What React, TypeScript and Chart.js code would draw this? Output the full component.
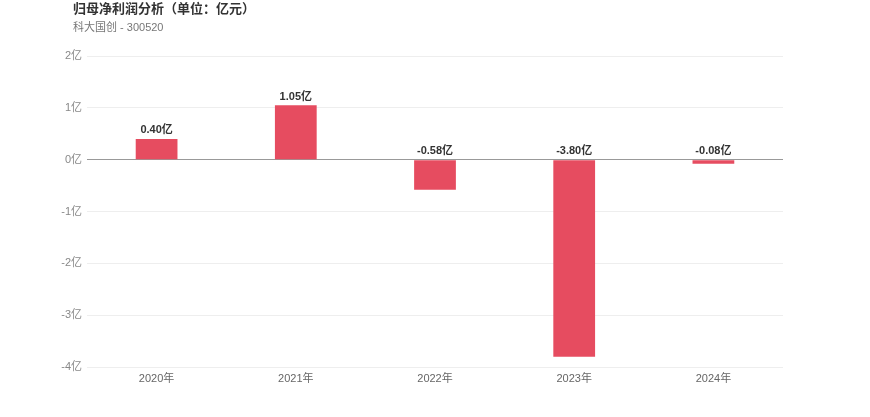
import React, { useEffect, useRef } from "react";
import { Chart, registerables } from "chart.js";

Chart.register(...registerables);

const categories = ["2020年", "2021年", "2022年", "2023年", "2024年"];
const profits = [0.4, 1.05, -0.58, -3.8, -0.08];
const yMin = -4;
const yMax = 2;
const titleText = "归母净利润分析（单位：亿元）";
const subtitleText = "科大国创 - 300520";

const FONT = '"Liberation Sans", "Noto Sans CJK SC", Arial, sans-serif';

const labelPlugin = {
  id: "barLabels",
  afterDatasetsDraw(chart: any) {
    const ctx = chart.ctx;
    const meta = chart.getDatasetMeta(0);
    const yScale = chart.scales.y;
    const zeroY = yScale.getPixelForValue(0);
    ctx.save();
    ctx.font = `bold 11px ${FONT}`;
    ctx.fillStyle = "#333";
    ctx.textAlign = "center";
    ctx.textBaseline = "bottom";
    meta.data.forEach((el: any, i: number) => {
      const v = profits[i];
      const y = v >= 0 ? el.y : zeroY;
      ctx.fillText(v.toFixed(2) + "亿", el.x, y - 3);
    });
    ctx.restore();
  },
};

export default function App() {
  const ref = useRef<HTMLCanvasElement>(null);
  useEffect(() => {
    if (!ref.current) return;
    const chart = new Chart(ref.current, {
      type: "bar",
      data: {
        labels: categories,
        datasets: [
          {
            data: profits,
            backgroundColor: "#e64c60",
            categoryPercentage: 1,
            barPercentage: 0.3,
          },
        ],
      },
      options: {
        animation: false,
        responsive: false,
        maintainAspectRatio: false,
        layout: { padding: { top: 56, right: 87, bottom: 0, left: 0 } },
        plugins: {
          legend: { display: false },
          tooltip: { enabled: false },
          title: { display: false },
        },
        scales: {
          x: {
            grid: { display: false, drawTicks: false },
            border: { display: false },
            ticks: { color: "#666", font: { size: 11, family: FONT }, padding: 5 },
            afterFit: (s: any) => {
              s.height = 50;
            },
          },
          y: {
            min: yMin,
            max: yMax,
            grid: {
              color: (c: any) => (c.tick && c.tick.value === 0 ? "#999" : "#eeeeee"),
              drawTicks: false,
            },
            border: { display: false },
            ticks: {
              stepSize: 1,
              color: "#888",
              font: { size: 11, family: FONT },
              padding: 5,
              callback: (v: any) => v + "亿",
            },
            afterFit: (s: any) => {
              s.width = 87;
            },
          },
        },
      },
      plugins: [labelPlugin],
    });
    return () => chart.destroy();
  }, []);
  return (
    <div style={{ position: "absolute", left: 0, top: 0, width: 870, height: 417, background: "#fff" }}>
      <div
        style={{
          position: "absolute",
          left: 73,
          top: 0,
          fontFamily: FONT,
          fontWeight: "bold",
          fontSize: 13,
          color: "#333",
          lineHeight: "17px",
        }}
      >
        {titleText}
      </div>
      <div
        style={{
          position: "absolute",
          left: 73,
          top: 20,
          fontFamily: FONT,
          fontSize: 11,
          color: "#777",
          lineHeight: "15px",
        }}
      >
        {subtitleText}
      </div>
      <canvas ref={ref} width={870} height={417} style={{ display: "block" }} />
    </div>
  );
}
